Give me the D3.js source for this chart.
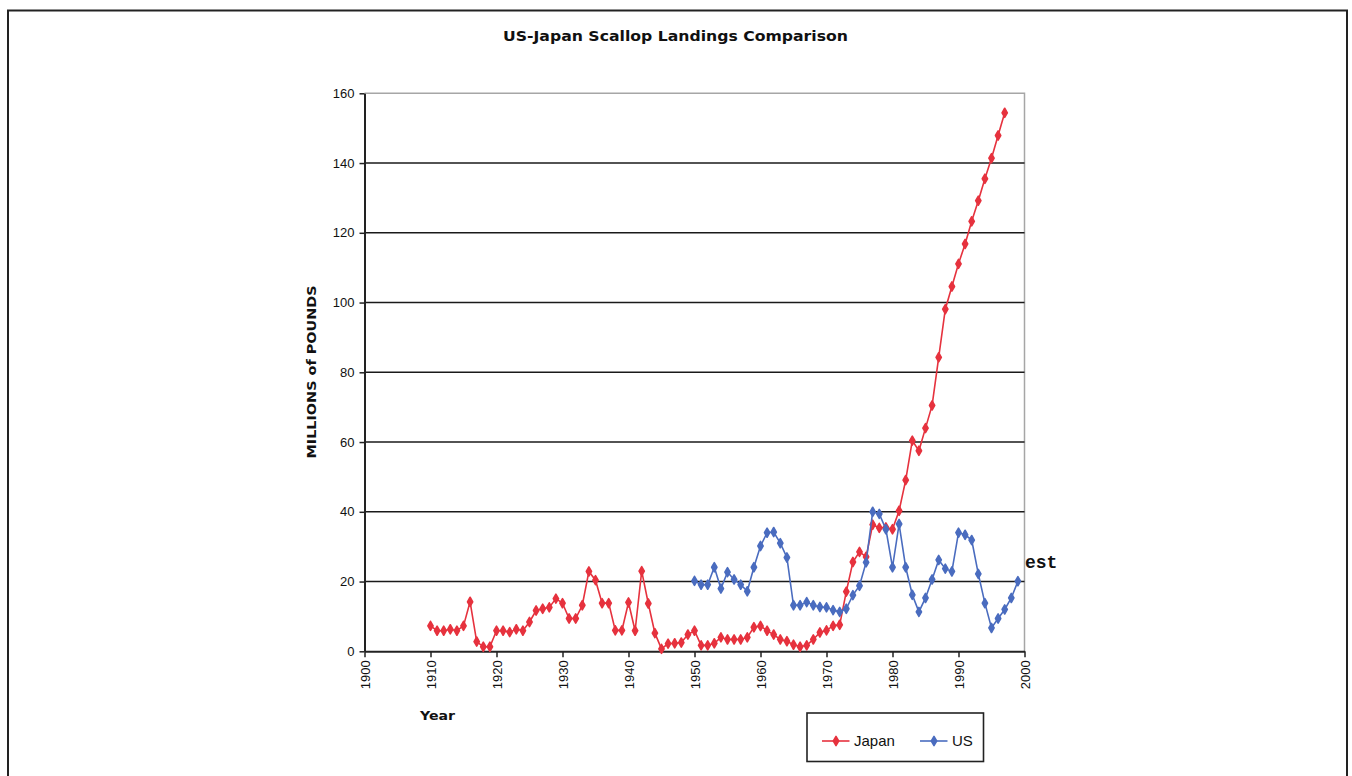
<!DOCTYPE html>
<html>
<head>
<meta charset="utf-8">
<script src="https://cdn.jsdelivr.net/npm/d3@7"></script>
<style>
  html, body { margin: 0; padding: 0; background: #ffffff; }
  svg { display: block; }
</style>
</head>
<body>
<svg id="chart" width="1352" height="776"></svg>
<script>
// ---- Data ----
const titleText = "US-Japan Scallop Landings Comparison";
const yAxisTitle = "MILLIONS of POUNDS";
const xAxisTitle = "Year";
const seriesNames = ["Japan", "US"];

const japanYears = d3.range(1910, 1998);
const japanValues = [
  7.3, 5.9, 5.9, 6.3, 5.9, 7.3, 14.2, 2.8, 1.3, 1.3,
  5.9, 5.9, 5.5, 6.3, 5.9, 8.4, 11.7, 12.2, 12.6, 15.1,
  13.8, 9.4, 9.4, 13.2, 22.9, 20.4, 13.8, 13.8, 6.0, 6.0,
  14.0, 5.9, 23.0, 13.7, 5.2, 0.7, 2.2, 2.3, 2.5, 4.8,
  5.9, 1.7, 1.7, 2.3, 4.0, 3.4, 3.4, 3.4, 4.0, 6.9,
  7.25, 5.9, 4.8, 3.4, 2.9, 1.9, 1.3, 1.7, 3.4, 5.4,
  6.0, 7.3, 7.6, 17.1, 25.6, 28.5, 27.1, 36.3, 35.4, 35.5,
  35.0, 40.3, 49.1, 60.4, 57.5, 64.0, 70.5, 84.3, 98.1, 104.6,
  111.1, 116.8, 123.3, 129.2, 135.5, 141.4, 147.9, 154.4
];

const usYears = d3.range(1950, 2000);
const usValues = [
  20.2, 19.1, 19.1, 24.1, 18.0, 22.7, 20.6, 19.1, 17.2, 24.1,
  30.2, 34.0, 34.2, 31.0, 26.9, 13.2, 13.2, 14.1, 13.2, 12.7,
  12.6, 11.8, 11.3, 12.2, 16.1, 18.8, 25.5, 40.0, 39.4, 35.0,
  24.1, 36.5, 24.1, 16.2, 11.3, 15.3, 20.6, 26.2, 23.7, 22.9,
  34.0, 33.4, 31.9, 22.2, 13.8, 6.7, 9.4, 12.0, 15.3, 20.1
];

const xTicks = d3.range(1900, 2001, 10);
const yTicks = d3.range(0, 161, 20);
const annotationText = "est";
const annotationYear = 1999;

// ---- Layout ----
const colors = { Japan: "#e6323e", US: "#4a6cbf" };
const plot = { left: 364.5, right: 1024.5, top: 93.3, bottom: 651.3 };

const svg = d3.select("#chart");

// outer frame
svg.append("rect")
  .attr("x", 8).attr("y", 10.5)
  .attr("width", 1339).attr("height", 800)
  .attr("fill", "none").attr("stroke", "#222").attr("stroke-width", 2);

const x = d3.scaleLinear().domain([1900, 2000]).range([plot.left, plot.right]);
const y = d3.scaleLinear().domain([0, 160]).range([plot.bottom, plot.top]);

// plot border (gray top/right)
svg.append("path")
  .attr("d", `M${plot.left},${plot.top}H${plot.right}V${plot.bottom}`)
  .attr("fill", "none").attr("stroke", "#a6a6a6").attr("stroke-width", 1.5);

// gridlines
svg.append("g").selectAll("line")
  .data(yTicks.filter(v => v > 0 && v < 160))
  .join("line")
  .attr("x1", plot.left).attr("x2", plot.right)
  .attr("y1", d => y(d)).attr("y2", d => y(d))
  .attr("stroke", "#1a1a1a").attr("stroke-width", 1.5);

// Y axis
const yAxis = svg.append("g")
  .attr("transform", `translate(${plot.left},0)`)
  .call(d3.axisLeft(y).tickValues(yTicks).tickSize(5).tickSizeOuter(0).tickPadding(5));
yAxis.select(".domain").attr("stroke", "#222").attr("stroke-width", 2);
yAxis.selectAll(".tick line").attr("stroke", "#222").attr("stroke-width", 1.5);
yAxis.selectAll(".tick text")
  .attr("font-family", "'Liberation Sans', Arial, sans-serif")
  .attr("font-size", 13).attr("fill", "#111");

// X axis
const xAxis = svg.append("g")
  .attr("transform", `translate(0,${plot.bottom})`)
  .call(d3.axisBottom(x).tickValues(xTicks).tickFormat(d3.format("d")).tickSize(6).tickSizeOuter(0));
xAxis.select(".domain").attr("stroke", "#222").attr("stroke-width", 2);
xAxis.selectAll(".tick line").attr("stroke", "#222").attr("stroke-width", 1.5);
xAxis.selectAll(".tick text")
  .attr("font-family", "'Liberation Sans', Arial, sans-serif")
  .attr("font-size", 13).attr("fill", "#111")
  .attr("text-anchor", "end")
  .attr("transform", "rotate(-90)")
  .attr("x", -9).attr("y", 0).attr("dy", "0.35em");

// Titles
svg.append("text")
  .attr("x", 675.5).attr("y", 40.5)
  .attr("text-anchor", "middle")
  .attr("font-family", "'DejaVu Sans', Verdana, sans-serif")
  .attr("font-weight", "bold").attr("font-size", 13.5)
  .attr("textLength", 345).attr("lengthAdjust", "spacingAndGlyphs")
  .attr("fill", "#111")
  .text(titleText);

svg.append("text")
  .attr("transform", "translate(316,372) rotate(-90)")
  .attr("text-anchor", "middle")
  .attr("font-family", "'DejaVu Sans', Verdana, sans-serif")
  .attr("font-weight", "bold").attr("font-size", 12)
  .attr("textLength", 173).attr("lengthAdjust", "spacingAndGlyphs")
  .attr("fill", "#111")
  .text(yAxisTitle);

svg.append("text")
  .attr("x", 420).attr("y", 719.5)
  .attr("font-family", "'DejaVu Sans', Verdana, sans-serif")
  .attr("font-weight", "bold").attr("font-size", 12)
  .attr("textLength", 35).attr("lengthAdjust", "spacingAndGlyphs")
  .attr("fill", "#111")
  .text(xAxisTitle);

// Series
const series = [
  { name: "Japan", data: japanYears.map((yr, i) => ({ yr, v: japanValues[i] })) },
  { name: "US", data: usYears.map((yr, i) => ({ yr, v: usValues[i] })) }
];
const line = d3.line().x(d => x(d.yr)).y(d => y(d.v));
const marker = d3.symbol().type(d3.symbolDiamond).size(24);

series.forEach(s => {
  const g = svg.append("g");
  g.append("path")
    .attr("d", line(s.data))
    .attr("fill", "none")
    .attr("stroke", colors[s.name]).attr("stroke-width", 1.6);
  g.selectAll("path.m")
    .data(s.data).join("path")
    .attr("class", "m")
    .attr("d", marker)
    .attr("transform", d => `translate(${x(d.yr)},${y(d.v)})`)
    .attr("fill", colors[s.name]).attr("stroke", colors[s.name])
    .attr("stroke-width", 1.6).attr("stroke-linejoin", "round");
});

// "est" annotation
svg.append("text")
  .attr("x", x(annotationYear) + 7).attr("y", y(usValues[usValues.length - 1]) - 13)
  .attr("font-family", "'Liberation Mono', 'Courier New', monospace")
  .attr("font-weight", "bold").attr("font-size", 18)
  .attr("fill", "#111")
  .text(annotationText);

// Legend
const lg = svg.append("g");
lg.append("rect")
  .attr("x", 807).attr("y", 713)
  .attr("width", 176.5).attr("height", 48.5)
  .attr("fill", "#fff").attr("stroke", "#222").attr("stroke-width", 1.6);
const legendItems = [
  { name: seriesNames[0], x0: 822, textX: 854 },
  { name: seriesNames[1], x0: 920, textX: 952 }
];
legendItems.forEach(it => {
  lg.append("line")
    .attr("x1", it.x0).attr("x2", it.x0 + 27.5)
    .attr("y1", 741).attr("y2", 741)
    .attr("stroke", colors[it.name]).attr("stroke-width", 1.6);
  lg.append("path")
    .attr("d", marker)
    .attr("transform", `translate(${it.x0 + 14},741)`)
    .attr("fill", colors[it.name]).attr("stroke", colors[it.name])
    .attr("stroke-width", 1.6).attr("stroke-linejoin", "round");
  lg.append("text")
    .attr("x", it.textX).attr("y", 746)
    .attr("font-family", "'Liberation Sans', Arial, sans-serif")
    .attr("font-size", 15).attr("fill", "#111")
    .text(it.name);
});
</script>
</body>
</html>
